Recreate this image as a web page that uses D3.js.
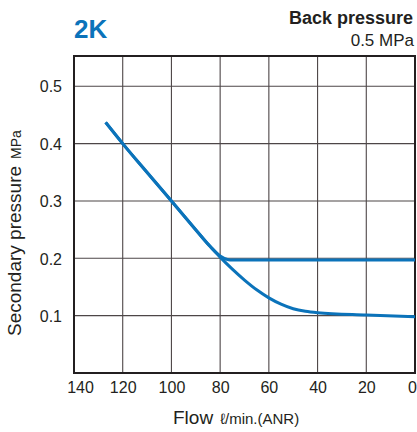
<!DOCTYPE html>
<html>
<head>
<meta charset="utf-8">
<script src="https://cdn.jsdelivr.net/npm/d3@7"></script>
<style>
    body { margin: 0; background: #fff; }
    text { font-family: 'Liberation Sans', Arial, sans-serif; fill: #231f20; }
</style>
</head>
<body>
<div class="chart-2k"><svg></svg></div>
<script>
// flow values (l/min ANR), ordered left to right on the reversed axis
const flowUpper = [127, 120, 110, 100, 90, 84, 80, 77, 75, 60, 40, 20, 0];
const pressUpper = [0.437, 0.4, 0.35, 0.3, 0.25, 0.22, 0.204, 0.198, 0.197, 0.197, 0.197, 0.197, 0.197];

const flowLower = [127, 120, 100, 85, 80, 75, 70, 65, 60, 55, 50, 45, 40, 20, 0];
const pressLower = [0.437, 0.4, 0.3, 0.225, 0.202, 0.181, 0.162, 0.145, 0.131, 0.12, 0.112, 0.1075, 0.105, 0.101, 0.098];

const flowTicks = [140, 120, 100, 80, 60, 40, 20, 0];
const pressTicks = [0.1, 0.2, 0.3, 0.4, 0.5];

const chart2k = () => {
    const margin = { top: 56, right: 2, bottom: 59, left: 74 };
    const w = 417;
    const h = 432;
    const width = w - margin.left - margin.right;
    const height = h - margin.top - margin.bottom;
    const blue = '#0b73ba';

    const svg = d3.select('.chart-2k svg').attr('width', w).attr('height', h);

    const x = d3.scaleLinear().domain([140, 0]).range([0, width]);
    const y = d3.scaleLinear().domain([0, 0.5527]).range([height, 0]);

    const g = svg.append('g')
        .attr('transform', `translate(${margin.left},${margin.top})`);

    // grid
    g.append('g')
        .selectAll('line')
        .data(flowTicks.slice(1, -1))
        .enter()
        .append('line')
        .attr('x1', (d) => x(d))
        .attr('x2', (d) => x(d))
        .attr('y1', 0)
        .attr('y2', height)
        .attr('stroke', '#4d4647')
        .attr('stroke-width', 1.1);

    g.append('g')
        .selectAll('line')
        .data(pressTicks)
        .enter()
        .append('line')
        .attr('x1', 0)
        .attr('x2', width)
        .attr('y1', (d) => y(d))
        .attr('y2', (d) => y(d))
        .attr('stroke', '#4d4647')
        .attr('stroke-width', 1.1);

    // axes (labels only)
    const axisX = d3.axisBottom(x)
        .tickValues(flowTicks)
        .tickFormat(d3.format('d'))
        .tickSize(0)
        .tickPadding(0);

    const gx = g.append('g')
        .attr('transform', `translate(0,${height})`)
        .call(axisX);
    gx.select('.domain').remove();
    gx.selectAll('text')
        .attr('y', 20)
        .attr('dy', 0)
        .attr('dx', (d) => (d === 140 ? 6 : d === 0 ? -3 : 0))
        .style('font-size', '16px')
        .style('font-family', "'Liberation Sans', Arial, sans-serif")
        .attr('fill', '#231f20');

    const axisY = d3.axisLeft(y)
        .tickValues(pressTicks)
        .tickFormat(d3.format('.1f'))
        .tickSize(0)
        .tickPadding(12);

    const gy = g.append('g').call(axisY);
    gy.select('.domain').remove();
    gy.selectAll('text')
        .attr('dy', '0.36em')
        .style('font-size', '16px')
        .style('font-family', "'Liberation Sans', Arial, sans-serif")
        .attr('fill', '#231f20');

    // frame
    g.append('rect')
        .attr('width', width)
        .attr('height', height)
        .attr('fill', 'none')
        .attr('stroke', '#231f20')
        .attr('stroke-width', 2);

    const line = d3.line()
        .x((d) => x(d[0]))
        .y((d) => y(d[1]))
        .curve(d3.curveMonotoneX);

    const series = [
        d3.zip(flowLower, pressLower),
        d3.zip(flowUpper, pressUpper)
    ];

    g.selectAll('.curve')
        .data(series)
        .enter()
        .append('path')
        .attr('class', 'curve')
        .attr('d', line)
        .attr('fill', 'none')
        .attr('stroke', blue)
        .attr('stroke-width', 3);

    // titles
    svg.append('text')
        .attr('x', 74)
        .attr('y', 38)
        .style('font-size', '26px')
        .style('font-weight', 'bold')
        .style('fill', blue)
        .text('2K');

    svg.append('text')
        .attr('x', 413)
        .attr('y', 24)
        .attr('text-anchor', 'end')
        .style('font-size', '18px')
        .style('font-weight', 'bold')
        .text('Back pressure');

    svg.append('text')
        .attr('x', 414)
        .attr('y', 46)
        .attr('text-anchor', 'end')
        .style('font-size', '17px')
        .text('0.5 MPa');

    const xt = svg.append('text')
        .attr('x', 173)
        .attr('y', 424)
        .style('font-size', '19px');
    xt.append('tspan').text('Flow');
    xt.append('tspan')
        .attr('dx', 7)
        .style('font-size', '15px')
        .text('\u2113/min.(ANR)');

    const yt = svg.append('text')
        .attr('transform', 'translate(21,336) rotate(-90)')
        .style('font-size', '19px');
    yt.append('tspan').text('Secondary pressure');
    yt.append('tspan')
        .attr('dx', 7)
        .style('font-size', '14px')
        .text('MPa');
};

chart2k();
</script>
</body>
</html>
